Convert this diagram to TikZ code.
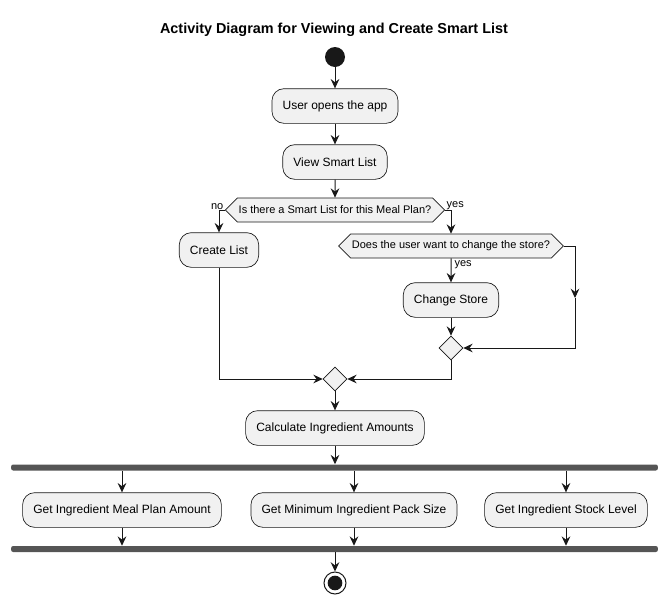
\documentclass[tikz,border=0pt]{standalone}
\usepackage{fontspec}
\setmainfont{Liberation Sans}
\usetikzlibrary{arrows.meta,shapes.geometric,shapes.symbols}

\definecolor{actfill}{HTML}{F1F1F1}
\definecolor{actline}{HTML}{181818}
\definecolor{barfill}{HTML}{555555}

\tikzset{
  action/.style={draw=actline,fill=actfill,rounded corners=9pt,line width=0.5pt,
    minimum height=26pt,inner xsep=8pt,font=\fontsize{9}{11}\selectfont},
  choice/.style={draw=actline,fill=actfill,signal,signal to=west and east,
    signal pointer angle=90,minimum height=18pt,inner xsep=1pt,line width=0.5pt,
    font=\fontsize{8.25}{10}\selectfont},
  merge/.style={draw=actline,fill=actfill,diamond,minimum size=18pt,inner sep=0pt,line width=0.5pt},
  bar/.style={fill=barfill,rounded corners=1.5pt,minimum width=485pt,minimum height=4.5pt,inner sep=0pt},
  flow/.style={->,line width=0.75pt,draw=actline},
  guard/.style={font=\fontsize{8.25}{10}\selectfont,inner sep=1pt},
}

\begin{document}
\begin{tikzpicture}[x=0.75pt,y=-0.75pt,>={Stealth[length=7pt,width=6.5pt,inset=2.4pt]}]
\useasboundingbox (0,0) rectangle (669,604);
% ================= title =================
\node[font=\bfseries\fontsize{10.8}{12}\selectfont] (title) at (334,30)
  {Activity Diagram for Viewing and Create Smart List};
% ================= opening steps =================
\node[circle,fill=actline,minimum size=15pt,inner sep=0pt] (start) at (335,57) {};
\node[action] (open) at (335,106) {User opens the app};
\node[action] (view) at (335,162) {View Smart List};
\draw[flow] (start) -- (open);
\draw[flow] (open) -- (view);
% ================= smart list decision =================
\node[choice] (hasList) at (335,210) {Is there a Smart List for this Meal Plan?};
\node[action] (create) at (219,250) {Create List};
\node[choice] (changeQ) at (451,246) {Does the user want to change the store?};
\node[action] (store) at (451,300) {Change Store};
\node[merge] (merge1) at (451,348) {};
\node[merge] (merge2) at (335,379) {};
\coordinate (skipmid) at (575,298);
\draw[flow] (view) -- (hasList);
\draw[flow] (hasList.west) -| (create);
\node[guard,anchor=south east] (noLbl) at ([yshift=-1pt]hasList.west) {no};
\draw[flow] (hasList.east) -| (changeQ);
\node[guard,anchor=south west] (yesLbl) at ([yshift=-1pt]hasList.east) {yes};
\draw[flow] (changeQ) -- (store);
\node[guard,anchor=west] (yesStore) at (453,265) {yes};
\draw[flow] (changeQ.east) -| (skipmid);
\draw[flow] (skipmid) |- (merge1.east);
\draw[flow] (store) -- (merge1);
\draw[flow] (merge1.south) |- (merge2.east);
\draw[flow] (create.south) |- (merge2.west);
% ================= amounts and parallel lookups =================
\node[action] (calc) at (335,428) {Calculate Ingredient Amounts};
\node[bar] (fork) at (334.5,467.5) {};
\node[action] (mealAmt) at (122,510) {Get Ingredient Meal Plan Amount};
\node[action] (packSize) at (354,510) {Get Minimum Ingredient Pack Size};
\node[action] (stockLvl) at (566,510) {Get Ingredient Stock Level};
\node[bar] (join) at (334.5,549) {};
\draw[flow] (merge2) -- (calc);
\draw[flow] (calc.south) -- (calc.south |- fork.north);
\foreach \n in {mealAmt,packSize,stockLvl} {
  \draw[flow] (\n |- fork.south) -- (\n);
  \draw[flow] (\n) -- (\n |- join.north);
}
% ================= end =================
\node[circle,draw=actline,line width=0.75pt,fill=white,minimum size=16.5pt,inner sep=0pt] (stop) at (335,583) {};
\fill[actline] (stop) circle (5.5pt);
\draw[flow] (join.south -| stop) -- (stop);
\end{tikzpicture}
\end{document}
